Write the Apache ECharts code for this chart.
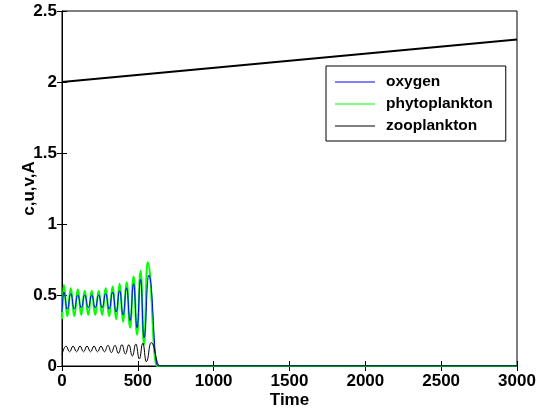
<!DOCTYPE html>
<html>
<head>
<meta charset="utf-8">
<script src="https://cdn.jsdelivr.net/npm/echarts@6/dist/echarts.min.js"></script>
<style>
  html, body { margin: 0; padding: 0; background: #fff; }
  #chart { width: 543px; height: 414px; }
</style>
</head>
<body>
<div id="chart"></div>
<script>
// Axis ticks
const xTicks = [0, 500, 1000, 1500, 2000, 2500, 3000];
const yTicks = [0, 0.5, 1, 1.5, 2, 2.5];

// Oxygen: sample times (peaks / troughs of the oscillation, then collapse) and values
const oxygenT = [0, 12, 35, 58, 81, 104, 127, 150, 173, 196, 219, 242, 265, 288, 311, 334, 357, 380, 403, 426, 449, 472, 495, 518, 541, 572, 632, 3000];
const oxygenV = [0.38, 0.52, 0.40, 0.51, 0.40, 0.50, 0.41, 0.50, 0.41, 0.50, 0.41, 0.50, 0.41, 0.51, 0.40, 0.52, 0.38, 0.53, 0.36, 0.55, 0.32, 0.58, 0.27, 0.61, 0.20, 0.64, 0, 0];

// Phytoplankton
const phytoT = [0, 12, 35, 58, 81, 104, 127, 150, 173, 196, 219, 242, 265, 288, 311, 334, 357, 380, 403, 426, 449, 472, 495, 518, 541, 564, 626, 3000];
const phytoV = [0.33, 0.57, 0.35, 0.55, 0.35, 0.54, 0.36, 0.53, 0.36, 0.53, 0.36, 0.53, 0.36, 0.55, 0.35, 0.56, 0.33, 0.58, 0.31, 0.59, 0.27, 0.63, 0.22, 0.67, 0.15, 0.73, 0, 0];

// Zooplankton
const zooT = [0, 27, 50, 73, 96, 119, 142, 165, 188, 211, 234, 257, 280, 303, 326, 349, 372, 395, 418, 441, 464, 487, 510, 533, 556, 588, 645, 3000];
const zooV = [0.08, 0.14, 0.10, 0.14, 0.10, 0.14, 0.10, 0.14, 0.10, 0.14, 0.10, 0.14, 0.10, 0.145, 0.095, 0.145, 0.09, 0.15, 0.085, 0.15, 0.07, 0.155, 0.05, 0.16, 0.03, 0.165, 0, 0];

// Slowly rising level A
const levelT = [0, 3000];
const levelV = [2.0, 2.3];

const pairs = (t, v) => t.map((x, i) => [x, v[i]]);

const FONT = 'Liberation Sans, Arial, Helvetica, sans-serif';
const chart = echarts.init(document.getElementById('chart'), null, { renderer: 'canvas' });

const labelStyle = { fontFamily: FONT, fontWeight: 'bold', fontSize: 17, color: '#000' };
const tickStyle = { show: true, inside: true, length: 5, lineStyle: { color: '#000', width: 1 } };

chart.setOption({
  animation: false,
  backgroundColor: '#fff',
  grid: { left: 62, right: 26, top: 11, bottom: 44, show: true, borderColor: '#000', borderWidth: 1 },
  legend: {
    orient: 'vertical',
    left: 326, top: 66,
    padding: [8, 13, 7, 9],
    itemGap: 6,
    itemWidth: 40, itemHeight: 1,
    icon: 'rect',
    backgroundColor: '#fff',
    borderColor: '#000', borderWidth: 1,
    textStyle: { fontFamily: FONT, fontWeight: 'bold', fontSize: 15.5, color: '#000', padding: [0, 0, 0, 6] },
    data: ['oxygen', 'phytoplankton', 'zooplankton']
  },
  xAxis: [{
    type: 'value', min: 0, max: 3000, interval: 500,
    name: 'Time', nameLocation: 'middle', nameGap: 26, nameMoveOverlap: false,
    nameTextStyle: labelStyle,
    axisLine: { show: true, lineStyle: { color: '#000', width: 1 } },
    axisTick: tickStyle,
    axisLabel: Object.assign({ margin: 7, formatter: v => xTicks.includes(v) ? String(v) : '' }, labelStyle),
    splitLine: { show: false }
  }, {
    type: 'value', min: 0, max: 3000, interval: 500, position: 'top',
    axisLine: { show: true, lineStyle: { color: '#000' } },
    axisTick: tickStyle, axisLabel: { show: false }, splitLine: { show: false }
  }],
  yAxis: [{
    type: 'value', min: 0, max: 2.5, interval: 0.5,
    name: 'c,u,v,A', nameLocation: 'middle', nameGap: 24, nameRotate: 90, nameMoveOverlap: false,
    nameTextStyle: labelStyle,
    axisLine: { show: true, lineStyle: { color: '#000', width: 1 } },
    axisTick: tickStyle,
    axisLabel: Object.assign({ margin: 5, formatter: v => yTicks.includes(v) ? String(v) : '' }, labelStyle),
    splitLine: { show: false }
  }, {
    type: 'value', min: 0, max: 2.5, interval: 0.5, position: 'right',
    axisLine: { show: true, lineStyle: { color: '#000' } },
    axisTick: tickStyle, axisLabel: { show: false }, splitLine: { show: false }
  }],
  series: [
    {
      name: 'oxygen', type: 'line', data: pairs(oxygenT, oxygenV),
      showSymbol: false, smooth: 0.5, smoothMonotone: 'x',
      color: '#0000ff', lineStyle: { color: '#0000ff', width: 1 }, z: 3
    },
    {
      name: 'phytoplankton', type: 'line', data: pairs(phytoT, phytoV),
      showSymbol: false, smooth: 0.5, smoothMonotone: 'x',
      color: '#00ff00', lineStyle: { color: '#00ff00', width: 2 }, z: 2
    },
    {
      name: 'zooplankton', type: 'line', data: pairs(zooT, zooV),
      showSymbol: false, smooth: 0.5, smoothMonotone: 'x',
      color: '#000000', lineStyle: { color: '#000000', width: 1 }, z: 4
    },
    {
      name: 'A', type: 'line', data: pairs(levelT, levelV),
      showSymbol: false, lineStyle: { color: '#000', width: 2 }, z: 5
    }
  ]
});
</script>
</body>
</html>
